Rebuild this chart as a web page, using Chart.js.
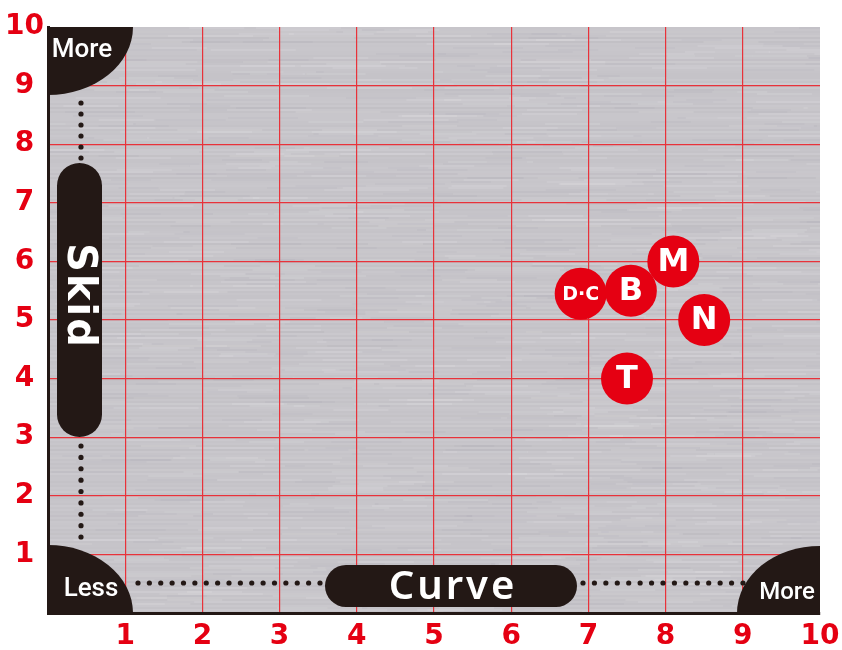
<!DOCTYPE html>
<html>
<head>
<meta charset="utf-8">
<script src="https://cdn.jsdelivr.net/npm/chart.js@4.4.1/dist/chart.umd.min.js"></script>
<style>
  html, body { margin: 0; padding: 0; background: #fff; overflow: hidden; }
  canvas { display: block; }
</style>
</head>
<body>
<canvas id="chart" width="842" height="650"></canvas>
<script>
// brands plotted on curve (x) vs skid (y)
const brands = ['D·C', 'B', 'M', 'N', 'T'];
const curveValues = [6.9, 7.55, 8.1, 8.5, 7.5];
const skidValues = [5.45, 5.5, 6.0, 5.0, 4.0];
const tickValues = [1, 2, 3, 4, 5, 6, 7, 8, 9, 10];

const RED = '#e50012';
const INK = '#231815';
const GRID = '#e8323a';

// brushed metal backdrop inside the chart area
const metalBg = {
    id: 'metalBg',
    beforeDraw(chart) {
        const { ctx, chartArea: a } = chart;
        ctx.save();
        ctx.beginPath();
        ctx.rect(a.left, a.top, a.right - a.left, a.bottom - a.top);
        ctx.clip();
        ctx.fillStyle = '#c7c5ca';
        ctx.fillRect(a.left, a.top, a.right - a.left, a.bottom - a.top);
        for (let y = a.top; y < a.bottom; y += 2) {
            const i = y - a.top;
            const s = Math.sin(i * 1.71) * 0.5 + Math.sin(i * 0.37) * 0.3 + Math.sin(i * 4.3) * 0.2;
            ctx.fillStyle = s > 0 ? `rgba(255,255,255,${s * 0.1})` : `rgba(120,115,125,${-s * 0.06})`;
            ctx.fillRect(a.left, y, a.right - a.left, 2);
            for (let k = 0; k < 4; k++) {
                const off = (Math.sin(i * 12.9898 + k * 78.233) * 43758.5453) % 1;
                const x0 = a.left + Math.abs(off) * (a.right - a.left);
                ctx.fillStyle = k % 2 ? 'rgba(255,255,255,0.1)' : 'rgba(140,135,145,0.06)';
                ctx.fillRect(x0, y, 40 + k * 15, 2);
            }
        }
        ctx.restore();
    }
};

function dots(ctx, x0, y0, x1, y1, step) {
    const len = Math.hypot(x1 - x0, y1 - y0);
    const n = Math.round(len / step);
    for (let i = 0; i <= n; i++) {
        const t = n ? i / n : 0;
        ctx.beginPath();
        ctx.arc(x0 + (x1 - x0) * t, y0 + (y1 - y0) * t, 2.6, 0, Math.PI * 2);
        ctx.fill();
    }
}

function pill(ctx, x, y, w, h) {
    const r = Math.min(w, h) / 2;
    ctx.beginPath();
    ctx.roundRect(x, y, w, h, r);
    ctx.fill();
}

// corner marks, axis pills and dotted guides
const decorations = {
    id: 'decorations',
    beforeDatasetsDraw(chart) {
        const { ctx, chartArea: a } = chart;
        ctx.save();
        ctx.fillStyle = INK;
        ctx.beginPath(); ctx.ellipse(a.left, a.top, 85, 68, 0, 0, Math.PI / 2); ctx.lineTo(a.left, a.top); ctx.fill();
        ctx.beginPath(); ctx.ellipse(a.left, a.bottom, 85, 68, 0, -Math.PI / 2, 0); ctx.lineTo(a.left, a.bottom); ctx.fill();
        ctx.beginPath(); ctx.ellipse(a.right, a.bottom, 83, 67, 0, Math.PI, Math.PI * 1.5); ctx.lineTo(a.right, a.bottom); ctx.fill();

        dots(ctx, 81, 103, 81, 158, 11.3);
        dots(ctx, 81, 446, 81, 537, 11.3);
        dots(ctx, 138, 583, 320, 583, 11.5);
        dots(ctx, 583, 583, 743, 583, 11.5);

        pill(ctx, 57, 163, 45, 274);
        pill(ctx, 325, 565, 252, 42);

        ctx.fillStyle = '#fff';
        ctx.textAlign = 'center';
        ctx.textBaseline = 'middle';
        ctx.font = '500 26px Roboto';
        ctx.fillText('More', 82, 50);
        ctx.fillText('Less', 91, 589);
        ctx.font = '500 24px Roboto';
        ctx.fillText('More', 787, 593);

        ctx.font = '600 40px "Noto Sans"';
        ctx.letterSpacing = '3px';
        ctx.fillText('Curve', 453, 588);

        ctx.save();
        ctx.translate(80, 296);
        ctx.rotate(Math.PI / 2);
        ctx.font = 'bold 40px "DejaVu Sans"';
        ctx.letterSpacing = '2px';
        ctx.fillText('Skid', 0, 2);
        ctx.restore();
        ctx.restore();
    }
};

// letters on the bubbles
const bubbleLabels = {
    id: 'bubbleLabels',
    afterDatasetsDraw(chart) {
        const { ctx } = chart;
        const meta = chart.getDatasetMeta(0);
        ctx.save();
        ctx.fillStyle = '#fff';
        ctx.textAlign = 'center';
        ctx.textBaseline = 'middle';
        meta.data.forEach((pt, i) => {
            const name = brands[i];
            ctx.font = name.length > 1 ? 'bold 19px "DejaVu Sans"' : 'bold 32px "DejaVu Sans"';
            ctx.fillText(name, pt.x, pt.y + 1);
        });
        ctx.restore();
    }
};

const gridColor = c => (c.tick && c.tick.value === 10 ? 'rgba(0,0,0,0)' : GRID);
const tickLabel = v => (tickValues.includes(v) ? String(v) : '');

new Chart(document.getElementById('chart'), {
    type: 'scatter',
    data: {
        datasets: [{
            data: brands.map((b, i) => ({ x: curveValues[i], y: skidValues[i] })),
            backgroundColor: RED,
            borderWidth: 0,
            pointRadius: 26,
            pointHoverRadius: 26,
        }],
    },
    options: {
        responsive: false,
        animation: false,
        events: [],
        layout: { autoPadding: false, padding: { top: 27, right: 22, left: 0, bottom: 0 } },
        plugins: { legend: { display: false }, tooltip: { enabled: false } },
        scales: {
            x: {
                type: 'linear', min: 0, max: 10,
                afterFit: s => { s.height = 37; },
                grid: { color: gridColor, lineWidth: 1.2, drawTicks: false },
                border: { display: true, color: INK, width: 3 },
                ticks: {
                    stepSize: 1, autoSkip: false, maxRotation: 0, padding: 0,
                    color: RED, font: { family: 'DejaVu Sans', size: 28, weight: 'bold', lineHeight: 1.68 },
                    callback: tickLabel,
                },
            },
            y: {
                type: 'linear', min: 0, max: 10,
                afterFit: s => { s.width = 48; },
                grid: { color: gridColor, lineWidth: 1.2, drawTicks: false },
                border: { display: true, color: INK, width: 3 },
                ticks: {
                    stepSize: 1, autoSkip: false, padding: 4, crossAlign: 'center',
                    color: RED, font: { family: 'DejaVu Sans', size: 28, weight: 'bold' },
                    callback: tickLabel,
                },
            },
        },
    },
    plugins: [metalBg, decorations, bubbleLabels],
});
</script>
</body>
</html>
